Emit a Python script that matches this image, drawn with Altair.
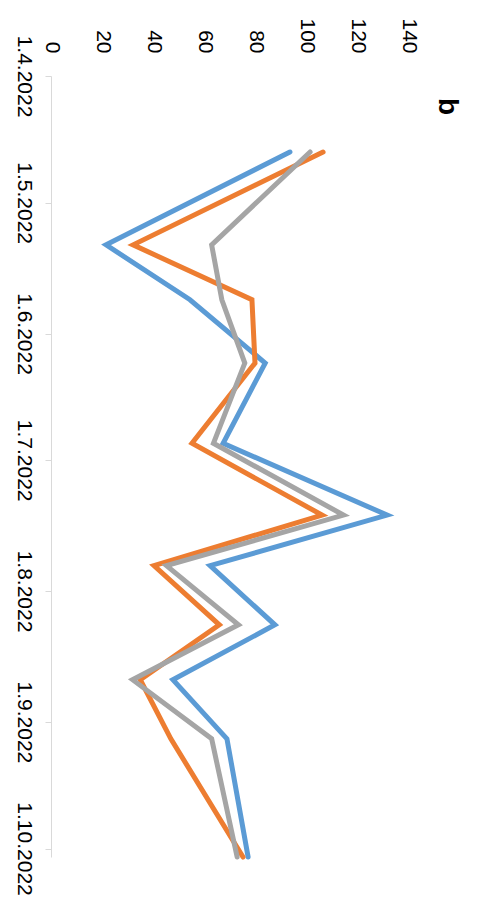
import altair as alt
import pandas as pd

dates = ["2022-04-19", "2022-05-11", "2022-05-24", "2022-06-08", "2022-06-27",
         "2022-07-14", "2022-07-26", "2022-08-09", "2022-08-22", "2022-09-05",
         "2022-10-03"]
blue = [93.7, 21.6, 54.5, 84.0, 67.5, 131.8, 62.4, 87.8, 47.8, 69.0, 77.3]
orange = [106.7, 32.2, 78.8, 80.0, 55.3, 106.3, 40.4, 66.0, 35.0, 47.0, 75.3]
gray = [101.6, 63.0, 67.0, 76.0, 63.7, 114.7, 45.3, 73.5, 32.0, 63.0, 73.0]
series_names = ["Series 1", "Series 2", "Series 3"]
series_colors = ["#5B9BD5", "#ED7D31", "#A5A5A5"]
tick_months = [4, 5, 6, 7, 8, 9, 10]
value_ticks = [0, 20, 40, 60, 80, 100, 120, 140]

rows = []
for name, vals in zip(series_names, [blue, orange, gray]):
    for d, v in zip(dates, vals):
        rows.append({"date": d + "T00:00:00", "value": v, "series": name})
df = pd.DataFrame(rows)

FONT = "Liberation Sans"

chart = alt.Chart(df).mark_line(strokeWidth=5, strokeCap="round").encode(
    y=alt.Y(
        "date:T",
        scale=alt.Scale(
            domain=[alt.DateTime(year=2022, month=4, date=1),
                    alt.DateTime(year=2022, month=10, date=3)],
            reverse=True,
        ),
        axis=alt.Axis(
            title=None,
            orient="left",
            values=[alt.DateTime(year=2022, month=m, date=1) for m in tick_months],
            format="%-d.%-m.%Y",
            labelAngle=90,
            labelAlign="center",
            labelBaseline="top",
            labelPadding=11,
            tickSize=6,
            tickColor="#D9D9D9",
            domainColor="#D9D9D9",
            grid=False,
            labelFont=FONT,
            labelFontSize=21,
            labelColor="#000000",
            labelOverlap=False,
        ),
    ),
    x=alt.X(
        "value:Q",
        scale=alt.Scale(domain=[0, 140], nice=False),
        axis=alt.Axis(
            title=None,
            orient="top",
            values=value_ticks,
            labelAngle=90,
            labelAlign="right",
            labelBaseline="middle",
            labelPadding=23,
            ticks=False,
            tickSize=0,
            domain=False,
            grid=False,
            labelFont=FONT,
            labelFontSize=21,
            labelColor="#000000",
            labelOverlap=False,
        ),
    ),
    color=alt.Color(
        "series:N",
        scale=alt.Scale(domain=series_names, range=series_colors),
        legend=None,
    ),
    order=alt.Order("date:T"),
).properties(
    width=357,
    height=781,
    autosize=alt.AutoSizeParams(type="none"),
    padding={"left": 43, "top": 68, "right": 70, "bottom": 50},
    title=alt.TitleParams(
        "b",
        orient="right",
        anchor="start",
        angle=90,
        font=FONT,
        fontSize=28,
        fontWeight="bold",
        color="#000000",
        dx=80,
        offset=14,
    ),
).configure_view(strokeWidth=0)

chart.save("out.html", embed_options={"renderer": "svg", "actions": False})
